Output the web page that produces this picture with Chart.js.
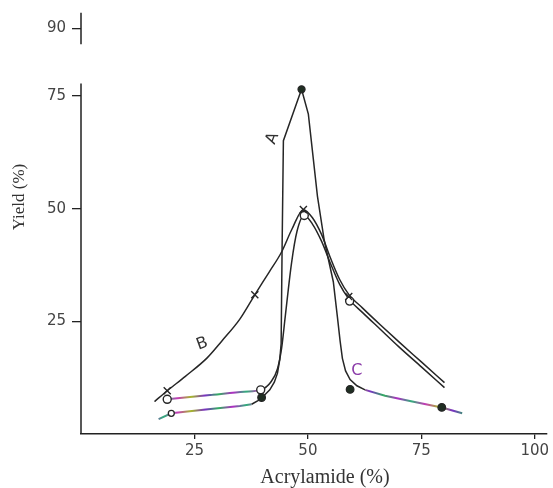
<!DOCTYPE html>
<html>
<head>
<meta charset="utf-8">
<script src="https://cdn.jsdelivr.net/npm/chart.js@4"></script>
<style>
  body { margin: 0; background: #fff; }
</style>
</head>
<body>
<canvas id="yieldChart" width="553" height="488"></canvas>
<script>
const xTicks = [25, 50, 75, 100]
const yTicks = [25, 50, 75, 90]

// traced curves, [acrylamide %, yield %]
const curveA = [[17.1, 3.3], [19.9, 4.6], [28, 5.5], [35, 6.2], [37.6, 6.6], [39, 7.4], [40.3, 8.5], [41.6, 9.8],
  [42.6, 11.5], [43.3, 13.5], [43.8, 16.5], [44.1, 20], [44.3, 40], [44.6, 65.1], [48.6, 76.5], [50.1, 71],
  [52.1, 52.8], [53.6, 43], [55.6, 33.8], [56.5, 26], [57.1, 20.6], [57.6, 16.8], [58.3, 14], [59.3, 12.1],
  [60.8, 10.7], [62.6, 9.8], [67, 8.5], [73, 7.2], [79.5, 5.9], [84, 4.6]]
const curveB = [[16.2, 7.2], [19, 9.6], [23, 12.8], [27.8, 16.9], [31, 20.6], [35, 25.5], [38.3, 30.9], [41.5, 36],
  [44.2, 40.4], [46.5, 45.5], [49, 49.8], [51, 48], [53, 44.3], [55, 39], [57, 34.3], [59, 31], [62, 28],
  [66, 24.2], [70, 20.5], [75, 16], [80.1, 11.4]]
const curveO = [[19, 7.7], [29, 8.7], [36, 9.4], [39.6, 9.8], [41.8, 11.5], [43.3, 14.5], [44.2, 19], [45, 26],
  [46.4, 38], [47.6, 45], [49.2, 48.5], [51, 46.6], [53, 42.8], [55, 37.8], [57, 33.2], [59, 30], [62, 27],
  [66, 23.2], [70, 19.4], [75, 14.9], [80.1, 10.3]]

// measured points
const pointsA = [[19.9, 4.6], [39.8, 8.1], [48.6, 76.5], [59.3, 9.9], [79.5, 5.9]]
const pointsB = [[19, 9.6], [38.3, 30.9], [49, 49.8], [59, 30.5]]
const pointsO = [[19, 7.7], [39.6, 9.8], [49.2, 48.5], [59.2, 29.5]]

const toXY = arr => arr.map(p => ({ x: p[0], y: p[1] }))

var canvas = document.getElementById('yieldChart')
var ctx = canvas.getContext('2d')

// the scan's ink bleeds into magenta / green on the low segments
var rainbow = ctx.createLinearGradient(150, 0, 480, 0)
var inks = ['#b02cc4', '#2fae7a', '#c43ab8', '#a6b82c', '#7a2fc4', '#30b060']
for (let i = 0; i <= 24; i++) rainbow.addColorStop(i / 24, inks[i % inks.length])

const ink = '#262626'

const curve = (data, extra) => Object.assign({
  type: 'line',
  data: toXY(data),
  borderColor: ink,
  borderWidth: 1.5,
  pointRadius: 0,
  cubicInterpolationMode: 'monotone',
  fill: false,
  order: 2,
}, extra)

const annotate = {
  id: 'annotate',
  afterDraw(chart) {
    const { ctx, chartArea } = chart
    const x = chart.scales.x
    const y = chart.scales.y
    ctx.save()
    // y axis, broken between 75 and 90
    ctx.strokeStyle = '#222'
    ctx.lineWidth = 1.5
    ctx.beginPath()
    ctx.moveTo(chartArea.left, y.getPixelForValue(0))
    ctx.lineTo(chartArea.left, y.getPixelForValue(77.8))
    ctx.moveTo(chartArea.left, y.getPixelForValue(86.5))
    ctx.lineTo(chartArea.left, y.getPixelForValue(93.5))
    ctx.stroke()

    // axis titles
    ctx.fillStyle = '#333'
    ctx.textAlign = 'center'
    ctx.textBaseline = 'middle'
    ctx.font = '20px "Liberation Serif"'
    ctx.fillText('Acrylamide (%)', 325, 478)
    ctx.save()
    ctx.translate(20, 197)
    ctx.rotate(-Math.PI / 2)
    ctx.font = '17px "Liberation Serif"'
    ctx.fillText('Yield (%)', 0, 0)
    ctx.restore()

    // curve letters
    ctx.font = '16px "DejaVu Sans"'
    ctx.fillStyle = '#333'
    ctx.save()
    ctx.translate(x.getPixelForValue(42.2), y.getPixelForValue(65.6))
    ctx.rotate(-1.2)
    ctx.fillText('A', 0, 0)
    ctx.restore()
    ctx.save()
    ctx.translate(x.getPixelForValue(26.7), y.getPixelForValue(20))
    ctx.rotate(-0.35)
    ctx.fillText('B', 0, 0)
    ctx.restore()
    ctx.fillStyle = '#8a3aa8'
    ctx.fillText('C', x.getPixelForValue(60.8), y.getPixelForValue(14))
    ctx.restore()
  },
}

var myChart = new Chart(ctx, {
  data: {
    datasets: [
      curve(curveA, {
        label: 'A',
        cubicInterpolationMode: 'default',
        tension: 0,
        segment: {
          borderColor: c => (c.p1.parsed.x <= 38 || c.p0.parsed.x >= 62) ? rainbow : undefined,
          borderWidth: c => (c.p1.parsed.x <= 38 || c.p0.parsed.x >= 62) ? 2 : undefined,
        },
      }),
      curve(curveB, { label: 'B' }),
      curve(curveO, {
        label: 'O',
        segment: {
          borderColor: c => (c.p1.parsed.x <= 39.7) ? rainbow : undefined,
          borderWidth: c => (c.p1.parsed.x <= 39.7) ? 2 : undefined,
        },
      }),
      {
        type: 'scatter',
        label: 'A points',
        data: toXY(pointsA),
        pointStyle: 'circle',
        pointRadius: [3, 3.8, 3.5, 3.8, 3.8],
        pointBackgroundColor: ['#fff', '#1f2e22', '#1f2e22', '#1f2e22', '#1f2e22'],
        pointBorderColor: ink,
        pointBorderWidth: 1.3,
        order: 0,
      },
      {
        type: 'scatter',
        label: 'B points',
        data: toXY(pointsB),
        pointStyle: 'crossRot',
        pointRadius: 5,
        pointBorderColor: ink,
        pointBorderWidth: 1.4,
        order: 0,
      },
      {
        type: 'scatter',
        label: 'O points',
        data: toXY(pointsO),
        pointStyle: 'circle',
        pointRadius: 4,
        pointBackgroundColor: '#fff',
        pointBorderColor: ink,
        pointBorderWidth: 1.4,
        order: 1,
      },
    ],
  },
  options: {
    responsive: false,
    animation: false,
    layout: { padding: { top: 10, right: 3, left: 0, bottom: 0 } },
    plugins: { legend: { display: false }, tooltip: { enabled: false } },
    scales: {
      x: {
        type: 'linear',
        min: 0,
        max: 102.6,
        afterFit(scale) { scale.height = 54 },
        afterBuildTicks(scale) { scale.ticks = xTicks.map(v => ({ value: v })) },
        grid: { drawOnChartArea: false, tickLength: 5, color: '#222', lineWidth: 1.3 },
        border: { display: true, color: '#222', width: 1.5 },
        ticks: { padding: 3, color: '#444', font: { family: 'DejaVu Sans', size: 15 }, maxRotation: 0 },
      },
      y: {
        type: 'linear',
        min: 0,
        max: 93,
        afterFit(scale) { scale.width = 81 },
        afterBuildTicks(scale) { scale.ticks = yTicks.map(v => ({ value: v })) },
        grid: { drawOnChartArea: false, tickLength: 9, color: '#222', lineWidth: 1.3 },
        border: { display: false },
        ticks: { padding: 6, color: '#444', font: { family: 'DejaVu Sans', size: 15 } },
      },
    },
  },
  plugins: [annotate],
})
</script>
</body>
</html>
